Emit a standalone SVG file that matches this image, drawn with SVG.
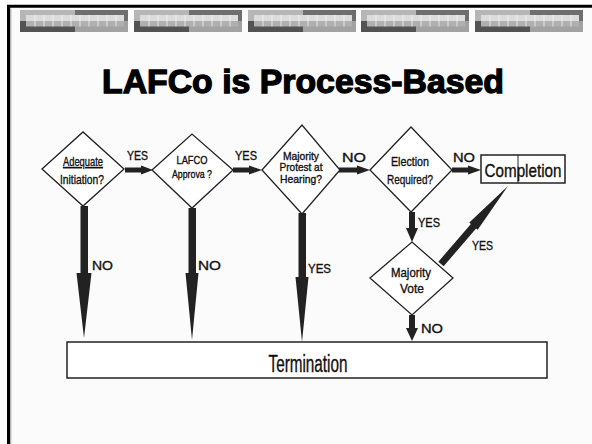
<svg xmlns="http://www.w3.org/2000/svg" width="592" height="444" viewBox="0 0 592 444">
<defs>
<style>
.t{font-family:"Liberation Sans",Arial,sans-serif;fill:#111;stroke:#111;stroke-width:0.35}
.dia{fill:#fff;stroke:#222;stroke-width:1.3}
.arr{fill:#222}
.box{fill:#fff;stroke:#222;stroke-width:1.5}
.lbl{font-family:"Liberation Sans",Arial,sans-serif;font-size:13px;fill:#111;stroke:#111;stroke-width:0.35}
</style>
<g id="bar">
<rect x="0" y="0" width="55" height="11" fill="#b6b6b6"/>
<rect x="55" y="0" width="53" height="11" fill="#6e6e6e"/>
<rect x="0" y="11" width="55" height="11" fill="#535353"/>
<rect x="55" y="11" width="53" height="11" fill="#a2a2a2"/>
<rect x="6" y="5" width="98" height="6" fill="#dcdcdc"/>
<rect x="6" y="11" width="98" height="5.5" fill="#b0b0b0"/>
<path d="M15,5V16.5M24,5V16.5M33,5V16.5M42,5V16.5M51,5V16.5M60,5V16.5M69,5V16.5M78,5V16.5M87,5V16.5M96,5V16.5" stroke="#f4f4f4" stroke-width="0.8"/>
</g>
</defs>
<rect width="592" height="444" fill="#fff"/>
<rect x="8" y="6" width="584" height="438" fill="#fbfbfb"/>
<path d="M8.5,444V6.2H592" fill="none" stroke="#000" stroke-width="3"/>
<path d="M10.8,444V8.5" stroke="#999" stroke-width="1"/>
<g id="header">
<use href="#bar" x="20" y="10"/>
<use href="#bar" x="134" y="10"/>
<use href="#bar" x="248" y="10"/>
<use href="#bar" x="361" y="10"/>
<use href="#bar" x="475" y="10"/>
</g>
<text id="title" x="303" y="93" text-anchor="middle" font-family="'Liberation Sans',Arial,sans-serif" font-weight="bold" font-size="34" fill="#000" stroke="#000" stroke-width="1.3" textLength="402" lengthAdjust="spacingAndGlyphs">LAFCo is Process-Based</text>

<g id="connectors">
<polygon class="arr" points="125,167.5 141,167.5 141,165.5 153,170 141,174.5 141,172.5 125,172.5"/>
<polygon class="arr" points="233,167.5 249,167.5 249,165.5 262,170 249,174.5 249,172.5 233,172.5"/>
<polygon class="arr" points="339,167.5 357,167.5 357,165.5 370,170 357,174.5 357,172.5 339,172.5"/>
<polygon class="arr" points="452,167.5 468,167.5 468,165.5 481,170 468,174.5 468,172.5 452,172.5"/>
<polygon class="arr" points="80.5,206 88,206 88,273 91.5,273 84,338 76.5,273 80.5,273"/>
<polygon class="arr" points="188.5,208 196,208 196,273 198.5,273 192,340 185.5,273 188.5,273"/>
<polygon class="arr" points="298.5,213 306,213 306,277 308.5,277 302,342 295.5,277 298.5,277"/>
<polygon class="arr" points="409,212 415,212 415,228 418,228 412,242 406,228 409,228"/>
<polygon class="arr" points="409,315 415,315 415,328 418,328 412,341 406,328 409,328"/>
<polygon class="arr" points="443.6,266.3 476.1,228.5 477.7,229.8 508,186 469.3,222.6 470.9,223.9 438.4,261.7"/>
<text class="lbl" x="127" y="160" textLength="21" lengthAdjust="spacingAndGlyphs">YES</text>
<text class="lbl" x="235" y="160" textLength="22" lengthAdjust="spacingAndGlyphs">YES</text>
<text class="lbl" x="342" y="162" font-size="15" textLength="24" lengthAdjust="spacingAndGlyphs">NO</text>
<text class="lbl" x="453" y="162" font-size="15" textLength="22" lengthAdjust="spacingAndGlyphs">NO</text>
<text class="lbl" x="92" y="270" textLength="21" lengthAdjust="spacingAndGlyphs">NO</text>
<text class="lbl" x="198" y="270" textLength="23" lengthAdjust="spacingAndGlyphs">NO</text>
<text class="lbl" x="308" y="273" textLength="23" lengthAdjust="spacingAndGlyphs">YES</text>
<text class="lbl" x="418" y="227" textLength="22" lengthAdjust="spacingAndGlyphs">YES</text>
<text class="lbl" x="472" y="250" textLength="21" lengthAdjust="spacingAndGlyphs">YES</text>
<text class="lbl" x="421" y="333" textLength="22" lengthAdjust="spacingAndGlyphs">NO</text>
</g>

<g id="adequate">
<polygon class="dia" points="42,169 83,132 124,169 83,206"/>
<text class="t" x="83" y="166" font-size="12" text-anchor="middle" textLength="40" lengthAdjust="spacingAndGlyphs" text-decoration="underline">Adequate</text>
<text class="t" x="82" y="184" font-size="13" text-anchor="middle" textLength="44" lengthAdjust="spacingAndGlyphs">Initiation?</text>
</g>
<g id="approval">
<polygon class="dia" points="152,170 192,134 233,170 192,208"/>
<text class="t" x="192" y="164" font-size="11" text-anchor="middle" textLength="31" lengthAdjust="spacingAndGlyphs">LAFCO</text>
<text class="t" x="192" y="178" font-size="11" text-anchor="middle" textLength="40" lengthAdjust="spacingAndGlyphs">Approva ?</text>
</g>
<g id="protest">
<polygon class="dia" points="262,170 302,125 340,170 302,214"/>
<text class="t" x="301" y="160" font-size="11" text-anchor="middle" textLength="36" lengthAdjust="spacingAndGlyphs">Majority</text>
<text class="t" x="301" y="171" font-size="11" text-anchor="middle" textLength="43" lengthAdjust="spacingAndGlyphs">Protest at</text>
<text class="t" x="301" y="183" font-size="11" text-anchor="middle" textLength="42" lengthAdjust="spacingAndGlyphs">Hearing?</text>
</g>
<g id="election">
<polygon class="dia" points="370,170 411,127 452,170 411,212"/>
<text class="t" x="410" y="166" font-size="13" text-anchor="middle" textLength="38" lengthAdjust="spacingAndGlyphs">Election</text>
<text class="t" x="410" y="184" font-size="13" text-anchor="middle" textLength="46" lengthAdjust="spacingAndGlyphs">Required?</text>
</g>
<g id="completion">
<rect class="box" x="481" y="155" width="84" height="28"/>
<line x1="518" y1="155" x2="518" y2="183" stroke="#222" stroke-width="1"/>
<text class="t" x="523" y="177" font-size="19" text-anchor="middle" textLength="77" lengthAdjust="spacingAndGlyphs">Completion</text>
</g>
<g id="vote">
<polygon class="dia" points="370,278 412,242 453,278 412,315"/>
<text class="t" x="411" y="277" font-size="13" text-anchor="middle" textLength="40" lengthAdjust="spacingAndGlyphs">Majority</text>
<text class="t" x="412" y="293" font-size="13" text-anchor="middle" textLength="24" lengthAdjust="spacingAndGlyphs">Vote</text>
</g>
<g id="termination">
<rect class="box" x="67" y="342" width="480" height="36"/>
<text class="t" x="308" y="372" font-size="23" text-anchor="middle" textLength="79" lengthAdjust="spacingAndGlyphs">Termination</text>
</g>
</svg>
